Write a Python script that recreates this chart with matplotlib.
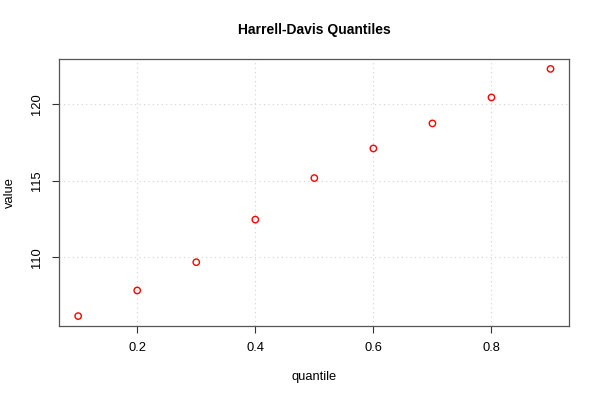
import matplotlib
matplotlib.use("Agg")
import matplotlib.pyplot as plt

quantile = [0.1, 0.2, 0.3, 0.4, 0.5, 0.6, 0.7, 0.8, 0.9]
value = [106.14, 107.82, 109.67, 112.46, 115.18, 117.12, 118.76, 120.46, 122.33]
xticks = [0.2, 0.4, 0.6, 0.8]
yticks = [110, 115, 120]

plt.rcParams['font.family'] = ['Liberation Sans', 'DejaVu Sans']
fig = plt.figure(figsize=(6, 4), dpi=100)
ax = fig.add_axes([0.0988, 0.185, 0.8502, 0.6675])
ax.scatter(quantile, value, s=21, facecolors='none', edgecolors='red', linewidths=1.0, zorder=3)

xr = max(quantile) - min(quantile)
yr = max(value) - min(value)
ax.set_xlim(min(quantile) - 0.04 * xr, max(quantile) + 0.04 * xr)
ax.set_ylim(min(value) - 0.04 * yr, max(value) + 0.04 * yr)
ax.set_xticks(xticks)
ax.set_xticklabels([f"{t:.1f}" for t in xticks])
ax.set_yticks(yticks)
ax.set_yticklabels([str(t) for t in yticks], rotation=90, va='center')
ax.tick_params(direction='out', length=5, width=0.8, labelsize=9.3, colors='#333333', labelcolor='black', pad=6.5)
ax.grid(True, linestyle=(0, (1, 3)), color='#d3d3d3', linewidth=0.8)
for s in ax.spines.values():
    s.set_color('#555555')
    s.set_linewidth(0.9)
fig.text(0.5 * (0.0988 + 0.949), 1 - 30 / 400, "Harrell-Davis Quantiles", fontsize=10,
         fontweight='bold', ha='center', va='center')
ax.set_xlabel("quantile", fontsize=9.3)
ax.set_ylabel("value", fontsize=9.3)
ax.xaxis.set_label_coords(0.5, (326 - 377) / 267)
ax.yaxis.set_label_coords((10 - 59.3) / 510, 0.5)
ax.xaxis.label.set_va('center')
ax.yaxis.label.set_va('center')
fig.savefig("out.png", dpi=100)
